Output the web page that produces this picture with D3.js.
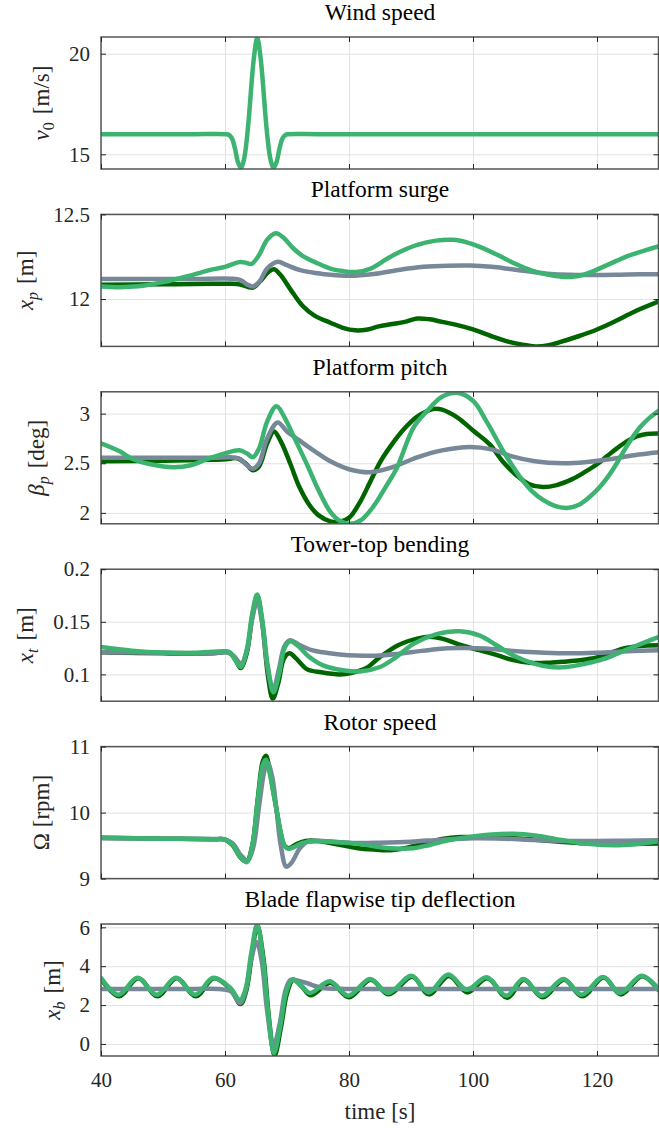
<!DOCTYPE html>
<html>
<head>
<meta charset="utf-8">
<script src="https://cdn.jsdelivr.net/npm/d3@7"></script>
<style>
  body { margin: 0; background: #fff; }
  svg { display: block; font-family: "Liberation Serif", "Times New Roman", serif; }
  .tick text { fill: #262626; font-size: 21px; font-family: "Liberation Serif", "Times New Roman", serif; }
  .grid line { stroke: #e2e2e2; stroke-width: 1; }
  .grid path { display: none; }
  .ticks line { stroke: #262626; stroke-width: 1; }
  .ticks path { display: none; }
  .box { fill: none; stroke: #555; stroke-width: 1.5; }
  .series { fill: none; stroke-width: 4.5; stroke-linejoin: round; stroke-linecap: round; }
  .p-title { font-size: 23.5px; fill: #000; text-anchor: middle; }
  .y-label { font-size: 23px; fill: #262626; text-anchor: middle; }
  .x-label { font-size: 23px; fill: #262626; text-anchor: middle; }
</style>
</head>
<body>
<svg id="chart"></svg>
<script>
// ---- data: [time s, value] ----
const timeTicks = [40, 60, 80, 100, 120];

const windSpeed = [[40,16],[45,16],[50,16],[55,16],[60.2,16],[60.6,15.97],[61.1,15.8],[61.6,15.3],[62.1,14.6],[62.6,14.32],
  [63.1,14.8],[63.5,15.7],[63.9,17.0],[64.3,18.6],[64.7,19.9],[65.2,20.8],[65.7,19.9],[66.1,18.6],[66.5,17.0],[66.9,15.7],
  [67.3,14.8],[67.8,14.32],[68.3,14.6],[68.8,15.3],[69.3,15.8],[69.8,15.97],[70.2,16],[75,16],[85,16],[100,16],[115,16],
  [125,16],[130,16]];

const surgeDark = [[40,12.085],[50,12.087],[58,12.09],[61,12.09],[62.5,12.085],[63.8,12.07],[64.6,12.068],[65.8,12.11],
  [67,12.16],[67.9,12.176],[69,12.14],[70.5,12.06],[72.5,11.96],[74.5,11.9],[77,11.86],[79,11.83],[81,11.815],[83,11.82],
  [85,11.84],[87,11.852],[89,11.865],[91,11.885],[93,11.88],[95,11.865],[97,11.85],[100,11.82],[103,11.78],[106,11.745],
  [108,11.73],[110,11.72],[112,11.725],[114,11.745],[117,11.78],[120,11.82],[123,11.87],[126,11.925],[130,11.986]];
const surgeGray = [[40,12.118],[48,12.118],[55,12.118],[61,12.12],[62.5,12.112],[63.6,12.085],[64.5,12.074],[65.5,12.1],
  [66.8,12.18],[68.5,12.22],[70,12.2],[72,12.172],[75,12.152],[77,12.143],[80,12.137],[84,12.148],[88,12.172],[92,12.19],
  [96,12.197],[99.5,12.198],[103,12.19],[106,12.177],[109.2,12.162],[112,12.15],[115.6,12.143],[120,12.142],[125,12.145],
  [130,12.147]];
const surgeLight = [[40,12.074],[43,12.07],[46,12.075],[50,12.1],[54,12.135],[58,12.175],[60,12.19],[62.3,12.218],
  [63.3,12.215],[64.3,12.208],[65.5,12.26],[66.8,12.35],[68.2,12.388],[69.5,12.36],[71,12.3],[72.5,12.255],[75,12.21],
  [77,12.18],[79,12.165],[81.2,12.16],[83.5,12.18],[86,12.235],[88,12.275],[91,12.32],[94,12.345],[96.8,12.35],
  [99,12.335],[101,12.31],[104,12.26],[107,12.205],[109.5,12.168],[112,12.145],[115.6,12.13],[118,12.145],[121.6,12.2],
  [125,12.255],[128,12.29],[130,12.313]];

const pitchDark = [[40,2.52],[50,2.525],[58,2.535],[60,2.54],[62,2.55],[63.3,2.5],[64.5,2.43],[65.5,2.47],[66.8,2.7],
  [67.9,2.82],[69,2.72],[70.5,2.5],[72,2.26],[73.5,2.09],[75,1.98],[77,1.915],[78.5,1.91],[80,1.95],[81.7,2.1],[83.4,2.31],
  [85,2.51],[86.8,2.68],[88.8,2.84],[91,2.97],[93.5,3.045],[95,3.04],[97.5,2.96],[100,2.83],[102.7,2.69],[104.9,2.51],
  [107,2.38],[109,2.29],[111.3,2.26],[113.5,2.28],[116,2.34],[118,2.41],[120,2.49],[121.6,2.57],[123.2,2.65],[124.8,2.72],
  [126.4,2.77],[128,2.795],[130,2.80]];
const pitchGray = [[40,2.555],[50,2.555],[58,2.555],[61,2.56],[62.5,2.54],[63.5,2.48],[64.5,2.445],[65.5,2.5],[66.8,2.75],
  [68.5,2.91],[70,2.82],[72,2.73],[74.5,2.62],[77,2.52],[80,2.44],[83.4,2.41],[87,2.46],[91,2.56],[95,2.63],[99.5,2.665],
  [103,2.64],[106,2.575],[110,2.52],[114.6,2.50],[118,2.51],[122,2.54],[126,2.58],[130,2.61]];
const pitchLight = [[40,2.70],[43,2.62],[45.2,2.54],[48,2.49],[51.7,2.46],[54.5,2.48],[57,2.54],[60,2.60],[62.3,2.63],
  [63.5,2.6],[64.5,2.56],[65.5,2.65],[66.8,2.92],[68.3,3.075],[69.7,2.95],[71,2.78],[72,2.65],[73.5,2.45],[75,2.24],
  [77,2.01],[78.5,1.92],[80.2,1.89],[82,1.93],[84,2.07],[86,2.27],[87.7,2.45],[90.4,2.86],[92.5,3.02],[95,3.17],
  [97.4,3.21],[100,3.13],[102.2,2.92],[104.9,2.62],[107.6,2.36],[109.5,2.22],[111.3,2.13],[113.2,2.07],[115.1,2.05],
  [117,2.08],[118.8,2.16],[120.3,2.25],[121.6,2.35],[123,2.48],[124.2,2.61],[125.5,2.74],[126.9,2.86],[128.5,2.96],
  [130,3.03]];

const towerDark = [[40,0.121],[50,0.12],[58,0.12],[60.5,0.121],[61.5,0.116],[62.5,0.106],[63.5,0.12],[64.4,0.155],
  [65.2,0.174],[66,0.15],[66.9,0.1],[67.7,0.077],[68.6,0.092],[69.5,0.115],[70.4,0.12],[71.5,0.115],[73.2,0.105],
  [75.5,0.102],[78.5,0.1],[80.5,0.1015],[82.8,0.106],[85,0.1165],[88,0.128],[91,0.134],[93,0.1357],[95,0.134],[98,0.128],
  [101,0.123],[104,0.118],[106.5,0.1135],[109.2,0.111],[112,0.111],[114.5,0.112],[117.3,0.1134],[120,0.116],[122,0.12],
  [124.3,0.1246],[127,0.127],[130,0.1277]];
const towerGray = [[40,0.121],[50,0.1205],[58,0.12],[60.5,0.121],[61.5,0.117],[62.6,0.11],[63.5,0.122],[64.4,0.153],
  [65.2,0.17],[66,0.148],[66.9,0.105],[67.8,0.086],[68.7,0.105],[69.6,0.127],[70.5,0.1325],[72,0.128],[74,0.123],
  [75.8,0.121],[78.5,0.119],[81.2,0.118],[85,0.118],[90,0.121],[94,0.124],[98,0.125],[102,0.1245],[106,0.1225],
  [110,0.121],[114.6,0.12],[120,0.1205],[125,0.122],[130,0.123]];
const towerLight = [[40,0.126],[45,0.1225],[50,0.1207],[55,0.1205],[60,0.122],[60.8,0.121],[61.6,0.114],[62.5,0.107],
  [63.5,0.123],[64.4,0.158],[65.2,0.176],[66,0.152],[66.9,0.108],[67.8,0.083],[68.7,0.1],[69.6,0.125],[70.5,0.1315],
  [71.8,0.127],[73.5,0.117],[75.8,0.1086],[79,0.104],[82,0.103],[85,0.107],[87.5,0.116],[90.4,0.129],[94,0.138],
  [97.9,0.141],[101,0.137],[104,0.127],[106.5,0.118],[110,0.11],[112.5,0.107],[115.1,0.107],[118,0.11],[120.5,0.1135],
  [122.6,0.118],[125,0.124],[127.5,0.13],[130,0.1357]];

const rotorDark = [[40,9.62],[50,9.605],[58,9.595],[60,9.59],[61.3,9.5],[62.5,9.32],[63.5,9.26],[64.4,9.5],[65.3,10.22],
  [66.1,10.78],[66.6,10.86],[67.2,10.65],[67.8,10.32],[68.3,10.05],[69,9.68],[69.6,9.5],[70.3,9.46],[71.5,9.52],[73,9.57],
  [75,9.57],[78,9.52],[81.2,9.465],[84,9.44],[86.6,9.43],[89,9.46],[92,9.53],[95,9.6],[98,9.63],[102,9.625],[106,9.615],
  [110,9.59],[114,9.56],[118,9.535],[122,9.525],[126,9.525],[130,9.53]];
const rotorGray = [[40,9.61],[50,9.605],[58,9.6],[60,9.595],[61.3,9.53],[62.5,9.36],[63.6,9.28],[64.5,9.45],[65.5,10.1],
  [66.4,10.65],[66.9,10.75],[67.6,10.55],[68.3,10.05],[69,9.5],[69.9,9.18],[70.8,9.25],[72,9.45],[73.2,9.555],[75,9.575],
  [78,9.555],[81.2,9.54],[85,9.545],[90,9.56],[95,9.59],[100,9.61],[105,9.605],[110,9.585],[115,9.57],[120,9.57],
  [125,9.575],[130,9.58]];
const rotorLight = [[40,9.62],[50,9.605],[58,9.595],[60,9.59],[61.3,9.505],[62.5,9.32],[63.5,9.25],[64.4,9.5],[65.3,10.2],
  [66.1,10.72],[66.6,10.8],[67.2,10.6],[67.8,10.3],[68.3,10.05],[69,9.7],[69.6,9.5],[70.2,9.45],[71.2,9.48],[72.5,9.54],
  [74.8,9.565],[77,9.56],[81.2,9.53],[86.6,9.46],[90.4,9.46],[93,9.51],[95.8,9.575],[100,9.64],[103,9.67],[106.5,9.68],
  [110,9.655],[114.6,9.58],[118,9.53],[122.6,9.505],[126,9.52],[130,9.565]];

const bladeDark = [[40,3.35],[42.9,2.45],[46,3.38],[49.1,2.45],[52.2,3.38],[55.3,2.45],[58.2,3.38],[60.8,2.85],[62.5,2.05],
  [63.4,2.7],[64.3,4.5],[65.2,6.1],[66.2,4.4],[67.1,1.3],[68,-0.6],[69,0.8],[70,2.6],[71,3.3],[72.4,2.95],[73.8,2.5],
  [77,3.15],[80,2.4],[83.5,3.3],[86.4,2.55],[90.2,3.45],[92.9,2.55],[96.1,3.5],[99.1,2.65],[102.3,3.38],[105.5,2.38],
  [108.2,3.3],[111.2,2.4],[114.7,3.3],[117.6,2.45],[121.1,3.42],[123.8,2.55],[127.3,3.48],[130,2.75]];
const bladeGray = [[40,2.83],[45,2.83],[50,2.83],[55,2.83],[59,2.83],[61,2.7],[62.4,2.1],[63.3,2.7],[64.2,4.3],[65.1,5.25],
  [65.9,4.3],[66.8,1.7],[67.8,-0.14],[68.8,1.0],[69.8,2.8],[70.6,3.3],[71.8,3.25],[73.1,3.14],[74.5,2.98],[75.8,2.88],
  [78,2.84],[80,2.83],[90,2.83],[100,2.83],[110,2.83],[120,2.83],[130,2.83]];
const bladeLight = [[40,3.4],[42.8,2.53],[45.9,3.4],[49,2.53],[52.1,3.4],[55.2,2.53],[58.1,3.4],[60.8,2.9],[62.4,2.27],
  [63.3,2.8],[64.2,4.6],[65.2,6.15],[66.1,4.5],[67,1.5],[67.9,-0.48],[68.9,0.9],[69.9,2.7],[70.9,3.31],[72.3,3.0],
  [73.7,2.62],[76.9,3.22],[79.9,2.48],[83.4,3.34],[86.3,2.62],[90.1,3.51],[92.8,2.65],[96,3.57],[99,2.79],[102.2,3.43],
  [105.4,2.48],[108.1,3.34],[111.1,2.48],[114.6,3.34],[117.5,2.53],[121,3.45],[123.7,2.62],[127.2,3.51],[130,2.79]];

const colors = { dark: '#006400', gray: '#778899', light: '#3cb371' };

const panels = [
  { title: 'Wind speed', label: ['v', '0', '[m/s]'], italic: true, domain: [14.27, 20.83], ticks: [15, 20],
    series: [{ data: windSpeed, color: colors.light }] },
  { title: 'Platform surge', label: ['x', 'p', '[m]'], italic: true, domain: [11.72, 12.5], ticks: [12, 12.5],
    series: [{ data: surgeDark, color: colors.dark }, { data: surgeGray, color: colors.gray }, { data: surgeLight, color: colors.light }] },
  { title: 'Platform pitch', label: ['β', 'p', '[deg]'], italic: true, domain: [1.89, 3.22], ticks: [2, 2.5, 3],
    series: [{ data: pitchDark, color: colors.dark }, { data: pitchGray, color: colors.gray }, { data: pitchLight, color: colors.light }] },
  { title: 'Tower-top bending', label: ['x', 't', '[m]'], italic: true, domain: [0.0745, 0.2], ticks: [0.1, 0.15, 0.2],
    series: [{ data: towerDark, color: colors.dark }, { data: towerGray, color: colors.gray }, { data: towerLight, color: colors.light }] },
  { title: 'Rotor speed', label: ['Ω', '', '[rpm]'], italic: false, domain: [9, 11], ticks: [9, 10, 11],
    series: [{ data: rotorDark, color: colors.dark }, { data: rotorGray, color: colors.gray }, { data: rotorLight, color: colors.light }] },
  { title: 'Blade flapwise tip deflection', label: ['x', 'b', '[m]'], italic: true, domain: [-0.62, 6.17], ticks: [0, 2, 4, 6],
    series: [{ data: bladeDark, color: colors.dark }, { data: bladeGray, color: colors.gray }, { data: bladeLight, color: colors.light }] }
];

// ---- layout ----
const W = 659, H = 1128;
const left = 101, right = 659;
const firstTop = 37, step = 177.4, panelH = 132;
const tickLen = 5;

const svg = d3.select('#chart').attr('width', W).attr('height', H);

const x = d3.scaleLinear().domain([40, 130]).range([left, right]);

const line = d3.line()
    .x(d => x(d[0]))
    .y(d => d[1])
    .curve(d3.curveCatmullRom.alpha(0.5));

panels.forEach((p, i) => {
  const top = firstTop + i * step;
  const bottom = top + panelH;
  const isLast = i === panels.length - 1;

  const y = d3.scaleLinear().domain(p.domain).range([bottom, top]);
  const g = svg.append('g').attr('class', 'panel');

  // grid
  g.append('g').attr('class', 'grid')
      .attr('transform', `translate(0,${bottom})`)
      .call(d3.axisBottom(x).tickValues(timeTicks).tickSize(-panelH).tickFormat(''));
  g.append('g').attr('class', 'grid')
      .attr('transform', `translate(${left},0)`)
      .call(d3.axisLeft(y).tickValues(p.ticks).tickSize(-(right - left)).tickFormat(''));

  // curves (drawn dark, gray, light so the light one sits on top)
  const clipId = `clip-${i}`;
  g.append('clipPath').attr('id', clipId)
    .append('rect')
      .attr('x', left).attr('y', top)
      .attr('width', right - left).attr('height', panelH);

  g.append('g').attr('clip-path', `url(#${clipId})`)
    .selectAll('path')
    .data(p.series)
    .join('path')
      .attr('class', 'series')
      .attr('stroke', d => d.color)
      .attr('d', d => line(d.data.map(v => [v[0], y(v[1])])));

  // box
  g.append('rect').attr('class', 'box')
      .attr('x', left).attr('y', top)
      .attr('width', right - left - 0.5).attr('height', panelH);

  // inward ticks on all four sides
  g.append('g').attr('class', 'ticks')
      .attr('transform', `translate(0,${bottom})`)
      .call(d3.axisBottom(x).tickValues(timeTicks).tickSizeInner(-tickLen).tickSizeOuter(0)
        .tickPadding(16).tickFormat(isLast ? d3.format('d') : ''));
  g.append('g').attr('class', 'ticks')
      .attr('transform', `translate(0,${top})`)
      .call(d3.axisTop(x).tickValues(timeTicks).tickSizeInner(-tickLen).tickSizeOuter(0).tickFormat(''));
  const yAx = g.append('g').attr('class', 'ticks')
      .attr('transform', `translate(${left},0)`)
      .call(d3.axisLeft(y).tickValues(p.ticks).tickSizeInner(-tickLen).tickSizeOuter(0)
        .tickPadding(11).tickFormat(d3.format('~g')));
  g.append('g').attr('class', 'ticks')
      .attr('transform', `translate(${right - 0.5},0)`)
      .call(d3.axisRight(y).tickValues(p.ticks).tickSizeInner(-tickLen).tickSizeOuter(0).tickFormat(''));

  // title
  g.append('text').attr('class', 'p-title')
      .attr('x', (left + right) / 2)
      .attr('y', top - 17)
      .text(p.title);

  // y label, placed just left of the widest tick label
  let minX = left;
  yAx.selectAll('text').each(function() {
    minX = Math.min(minX, this.getBoundingClientRect().left);
  });
  const lx = minX - 20, ly = (top + bottom) / 2;
  const lab = g.append('text').attr('class', 'y-label')
      .attr('transform', `translate(${lx},${ly}) rotate(-90)`);
  lab.append('tspan').attr('font-style', p.italic ? 'italic' : 'normal').text(p.label[0]);
  if (p.label[1]) {
    lab.append('tspan').attr('dy', 5).attr('font-size', '16px')
        .attr('font-style', /[0-9]/.test(p.label[1]) ? 'normal' : 'italic')
        .text(p.label[1]);
    lab.append('tspan').attr('dy', -5).attr('dx', 8).text(p.label[2]);
  } else {
    lab.append('tspan').attr('dx', 6).text(p.label[2]);
  }

  if (isLast) {
    svg.append('text').attr('class', 'x-label')
        .attr('x', (left + right) / 2)
        .attr('y', 1119)
        .text('time [s]');
  }
});
</script>
</body>
</html>
